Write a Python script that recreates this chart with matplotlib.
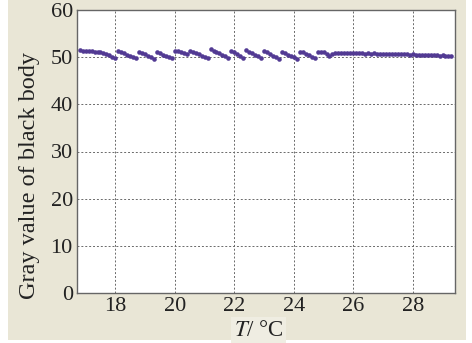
import matplotlib
matplotlib.use('Agg')
import matplotlib.pyplot as plt
from matplotlib.patches import Rectangle

# temperature samples (deg C)
T = [16.8, 16.9, 17.0, 17.1, 17.2, 17.3, 17.4, 17.5, 17.6, 17.7, 17.8, 17.9, 18.0,
     18.1, 18.2, 18.3, 18.4, 18.5, 18.6, 18.7,
     18.8, 18.9, 19.0, 19.1, 19.2, 19.3,
     19.4, 19.5, 19.6, 19.7, 19.8, 19.9,
     20.0, 20.1, 20.2, 20.3, 20.4,
     20.5, 20.6, 20.7, 20.8, 20.9, 21.0, 21.1,
     21.2, 21.3, 21.4, 21.5, 21.6, 21.7, 21.8,
     21.9, 22.0, 22.1, 22.2, 22.3,
     22.4, 22.5, 22.6, 22.7, 22.8, 22.9,
     23.0, 23.1, 23.2, 23.3, 23.4, 23.5,
     23.6, 23.7, 23.8, 23.9, 24.0, 24.1,
     24.2, 24.3, 24.4, 24.5, 24.6, 24.7,
     24.8, 24.9, 25.0, 25.1, 25.2,
     25.3, 25.4, 25.5, 25.6, 25.7, 25.8, 25.9, 26.0, 26.1, 26.2, 26.3,
     26.4, 26.5, 26.6, 26.7, 26.8, 26.9, 27.0, 27.1, 27.2, 27.3, 27.4,
     27.5, 27.6, 27.7, 27.8, 27.9, 28.0, 28.1, 28.2, 28.3, 28.4, 28.5,
     28.6, 28.7, 28.8, 28.9, 29.0, 29.1, 29.2, 29.3]

# gray value of black body
gray = [51.5, 51.4, 51.4, 51.3, 51.4, 51.2, 51.2, 51.0, 50.9, 50.6, 50.4, 50.1, 49.8,
        51.3, 51.0, 50.8, 50.5, 50.3, 50.0, 49.8,
        51.2, 50.9, 50.6, 50.3, 50.0, 49.7,
        51.1, 50.8, 50.5, 50.3, 50.0, 49.8,
        51.4, 51.3, 51.1, 50.8, 50.6,
        51.3, 51.0, 50.8, 50.6, 50.3, 50.0, 49.8,
        51.7, 51.4, 51.1, 50.8, 50.5, 50.2, 49.9,
        51.4, 51.0, 50.6, 50.3, 49.9,
        51.5, 51.2, 50.9, 50.5, 50.2, 49.8,
        51.3, 51.0, 50.6, 50.3, 50.0, 49.7,
        51.1, 50.8, 50.5, 50.2, 50.0, 49.7,
        51.2, 51.0, 50.7, 50.4, 50.1, 49.8,
        51.1, 51.0, 51.0, 50.6, 50.3,
        50.7, 50.9, 50.9, 50.8, 50.9, 50.8, 50.8, 50.8, 50.9, 50.8, 50.8,
        50.7, 50.8, 50.7, 50.8, 50.7, 50.7, 50.7, 50.6, 50.7, 50.6, 50.7,
        50.6, 50.6, 50.6, 50.6, 50.5, 50.6, 50.5, 50.5, 50.5, 50.4, 50.5,
        50.4, 50.4, 50.4, 50.3, 50.4, 50.3, 50.3, 50.3]

xticks = [18, 20, 22, 24, 26, 28]
yticks = [0, 10, 20, 30, 40, 50, 60]

plt.rcParams['font.family'] = 'Liberation Serif'
plt.rcParams['mathtext.fontset'] = 'stix'

fig = plt.figure(figsize=(4.72, 3.43), dpi=100, facecolor='white')
fig.patches.append(Rectangle((8/472, 3/343), 458/472, 340/343, transform=fig.transFigure,
                             facecolor='#e9e6d6', edgecolor='none', zorder=-10))

ax = fig.add_axes([77/472, 50/343, 378/472, 283/343])
ax.set_facecolor('white')

ax.plot(T, gray, linestyle='none', marker='o', markersize=3.3,
        color='#523a93', markeredgewidth=0)

ax.set_xlim(16.71, 29.42)
ax.set_ylim(0, 60)
ax.set_xticks(xticks)
ax.set_yticks(yticks)
ax.tick_params(length=0, labelsize=16, pad=3, colors='#222222')
ax.grid(True, color='#6a6a6a', linestyle=(0, (2, 2)), linewidth=0.7)

for s in ax.spines.values():
    s.set_color('#666666')
    s.set_linewidth(1.0)

ax.set_ylabel('Gray value of black body', fontsize=17.5, color='#222222')
ax.yaxis.set_label_coords(-0.098, 0.415)
ax.set_xlabel('$T$/ \u00b0C', fontsize=16.5, color='#222222', labelpad=0,
              bbox=dict(facecolor='#efede2', edgecolor='none', pad=2))
ax.xaxis.set_label_coords(0.48, -0.095)

fig.savefig('out.png', dpi=100, facecolor=fig.get_facecolor())
